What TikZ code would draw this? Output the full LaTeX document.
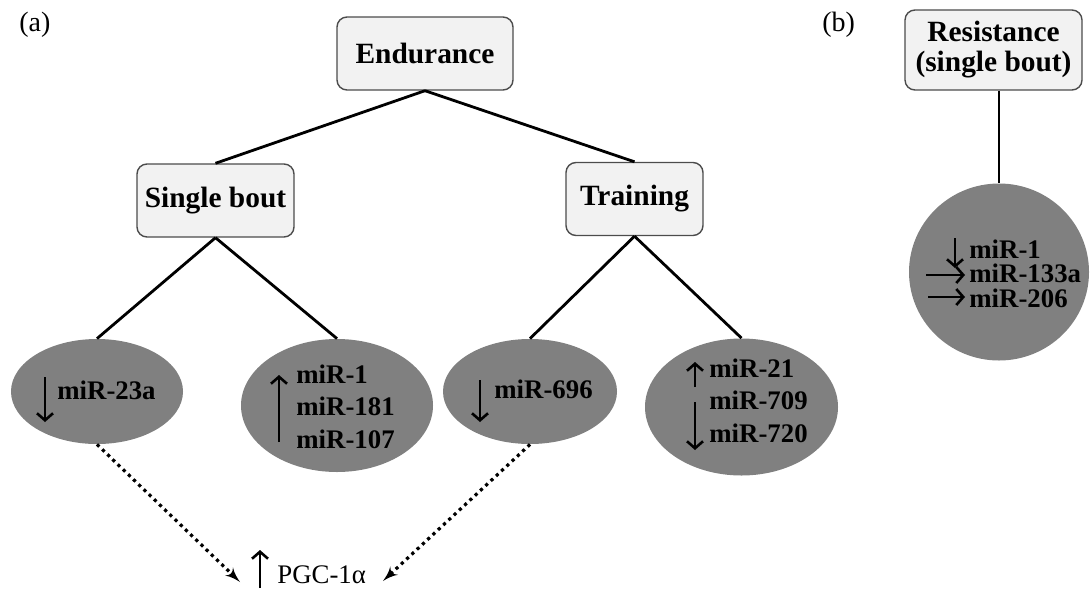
\documentclass[tikz,border=0pt]{standalone}
\usepackage{fontspec}
\setmainfont{Liberation Serif}
\usetikzlibrary{shapes,arrows,arrows.meta}
\tikzstyle{groupbox} = [rectangle, draw=black!70, fill=black!5, line width=0.7pt,
    rounded corners=5pt, minimum height=36.5pt, inner sep=0pt, align=center,
    font=\fontsize{14.7}{15}\selectfont\bfseries]
\tikzstyle{mirblob} = [ellipse, fill=black!50, inner sep=0pt]
\tikzstyle{mirtext} = [anchor=base west, inner sep=0pt, align=left,
    font=\fontsize{13.4}{16.2}\selectfont\bfseries]
\tikzstyle{line} = [draw, line width=1.4pt]
\tikzstyle{dotline} = [draw, dotted, line width=1.6pt, -latex']
\tikzstyle{updown} = [draw, line width=1.3pt, -{Straight Barb[length=3.5pt, width=8pt]}]

\begin{document}
\begin{tikzpicture}[x=0.5pt, y=-0.5pt]
    \useasboundingbox (0,0) rectangle (1091,595);
    % panel labels
    \node [anchor=base west, inner sep=0pt, font=\fontsize{14}{16}\selectfont] (panela) at (19,31) {(a)};
    \node [anchor=base west, inner sep=0pt, font=\fontsize{14}{16}\selectfont] (panelb) at (822,31) {(b)};
    % boxes
    \node [groupbox, minimum width=88pt] (endurance) at (425,53.5) {Endurance};
    \node [groupbox, minimum width=78.5pt] (single) at (215.5,200.5) {Single bout};
    \node [groupbox, minimum width=68.5pt] (training) at (634.5,199) {Training};
    \node [groupbox, minimum width=88.5pt, minimum height=40pt] (resist) at (993.5,50) {Resistance\\(single bout)};
    % ellipses
    \node [mirblob, minimum width=86pt, minimum height=52.5pt] (mira) at (97,391.5) {};
    \node [mirblob, minimum width=96pt, minimum height=66.5pt] (mirb) at (337,405.5) {};
    \node [mirblob, minimum width=87pt, minimum height=52.5pt] (mirc) at (530,391.5) {};
    \node [mirblob, minimum width=96.5pt, minimum height=68.5pt] (mird) at (741.5,407) {};
    \node [mirblob, minimum width=90pt, minimum height=88.5pt] (mire) at (999,272) {};
    % ellipse texts (base = last line)
    \node [mirtext] (miratext) at (57,399) {miR-23a};
    \node [mirtext] (mirbtext) at (296,448) {miR-1\\miR-181\\miR-107};
    \node [mirtext] (mirctext) at (494,398) {miR-696};
    \node [mirtext] (mirdtext) at (709,442) {miR-21\\miR-709\\miR-720};
    \node [mirtext, font=\fontsize{13.4}{12.2}\selectfont\bfseries] (miretext) at (969,307) {miR-1\\miR-133a\\miR-206};
    \path[updown] (45,377) -- (45,422);
    \path[updown] (279,442) -- (279,375);
    \path[updown] (480,380) -- (480,422);
    \path[updown] (695,387) -- (695,362);
    \path[updown] (695,402) -- (695,450);
    \path[updown] (955,238) -- (955,268);
    \path[updown] (926,275) -- (965,275);
    \path[updown] (928,297) -- (965,297);
    % PGC-1alpha
    \node [anchor=base west, inner sep=0pt, font=\fontsize{13.4}{16}\selectfont] (pgc) at (277,583) {PGC-1α};
    \path[updown] (260,588) -- (260,550);
    \coordinate (pgcleft) at (240,582);
    \coordinate (pgcright) at (383,581);
    % Draw edges
    \path[line] (endurance.south) -- (single.north);
    \path[line] (endurance.south) -- (training.north);
    \path[line] (single.south) -- (mira.north);
    \path[line] (single.south) -- (mirb.north);
    \path[line] (training.south) -- (mirc.north);
    \path[line] (training.south) -- (mird.north);
    \path[line] (resist.south -| mire.north) -- (mire.north);
    \path[dotline] (mira.south) -- (pgcleft);
    \path[dotline] (mirc.south) -- (pgcright);
\end{tikzpicture}
\end{document}
